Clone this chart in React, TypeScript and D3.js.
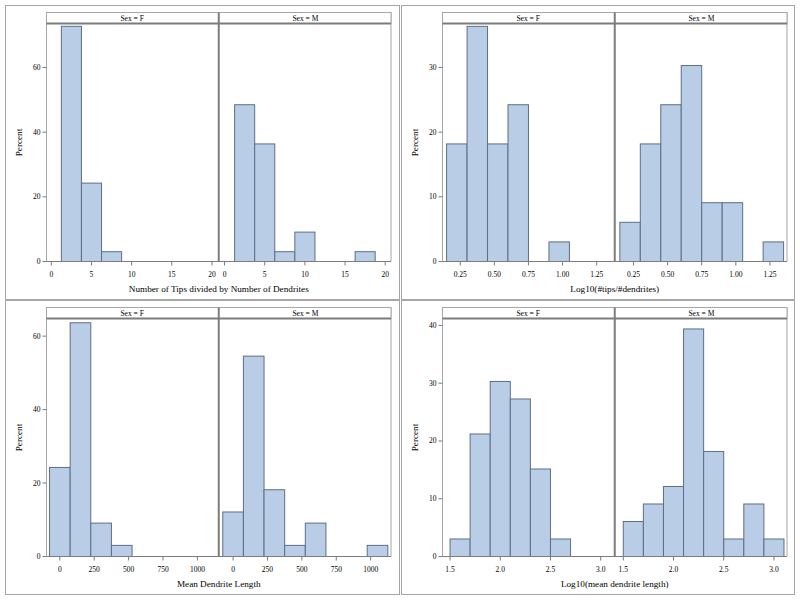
import React from "react";
import * as d3 from "d3";

const sexes = ["F", "M"];

// Chart 1: Number of tips / number of dendrites
const tipsBins = [2.5, 5, 7.5, 10, 12.5, 15, 17.5];
const tipsF = [72.73, 24.24, 3.03, 0, 0, 0, 0];
const tipsM = [48.48, 36.36, 3.03, 9.09, 0, 0, 3.03];
const tipsXTicks = [0, 5, 10, 15, 20];
const tipsYTicks = [0, 20, 40, 60];

// Chart 2: Log10(#tips/#dendrites)
const logTipsBins = [0.225, 0.375, 0.525, 0.675, 0.825, 0.975, 1.125, 1.275];
const logTipsF = [18.18, 36.36, 18.18, 24.24, 0, 3.03, 0, 0];
const logTipsM = [6.06, 18.18, 24.24, 30.3, 9.09, 9.09, 0, 3.03];
const logTipsXTicks = [0.25, 0.5, 0.75, 1.0, 1.25];
const logTipsYTicks = [0, 10, 20, 30];

// Chart 3: Mean dendrite length
const lenBins = [0, 150, 300, 450, 600, 750, 900, 1050];
const lenF = [24.24, 63.64, 9.09, 3.03, 0, 0, 0, 0];
const lenM = [12.12, 54.55, 18.18, 3.03, 9.09, 0, 0, 3.03];
const lenXTicks = [0, 250, 500, 750, 1000];
const lenYTicks = [0, 20, 40, 60];

// Chart 4: Log10(mean dendrite length)
const logLenBins = [1.6, 1.8, 2.0, 2.2, 2.4, 2.6, 2.8, 3.0];
const logLenF = [3.03, 21.21, 30.3, 27.27, 15.15, 3.03, 0, 0];
const logLenM = [6.06, 9.09, 12.12, 39.39, 18.18, 3.03, 9.09, 3.03];
const logLenXTicks = [1.5, 2.0, 2.5, 3.0];
const logLenYTicks = [0, 10, 20, 30, 40];

const xLabels = [
  "Number of Tips divided by Number of Dendrites",
  "Log10(#tips/#dendrites)",
  "Mean Dendrite Length",
  "Log10(mean dendrite length)",
];

type ChartDef = {
  bins: number[];
  binWidth: number;
  values: number[][];
  xDomain: [number, number];
  yMax: number;
  xTicks: number[];
  xFmt: (v: number) => string;
  yTicks: number[];
  label: string;
  col: number;
  row: number;
};

const charts: ChartDef[] = [
  { bins: tipsBins, binWidth: 2.5, values: [tipsF, tipsM], xDomain: [-0.6, 20.72], yMax: 73.6,
    xTicks: tipsXTicks, xFmt: d3.format("d"), yTicks: tipsYTicks, label: xLabels[0], col: 0, row: 0 },
  { bins: logTipsBins, binWidth: 0.15, values: [logTipsF, logTipsM], xDomain: [0.12, 1.375], yMax: 36.8,
    xTicks: logTipsXTicks, xFmt: d3.format(".2f"), yTicks: logTipsYTicks, label: xLabels[1], col: 1, row: 0 },
  { bins: lenBins, binWidth: 150, values: [lenF, lenM], xDomain: [-97, 1148], yMax: 64.8,
    xTicks: lenXTicks, xFmt: d3.format("d"), yTicks: lenYTicks, label: xLabels[2], col: 0, row: 1 },
  { bins: logLenBins, binWidth: 0.2, values: [logLenF, logLenM], xDomain: [1.425, 3.13], yMax: 41.2,
    xTicks: logLenXTicks, xFmt: d3.format(".1f"), yTicks: logLenYTicks, label: xLabels[3], col: 1, row: 1 },
];

const FONT = "'Liberation Serif', 'Times New Roman', serif";
const BAR_FILL = "#B9CDE6";
const BAR_STROKE = "#5E6E86";
const FRAME = "#a6a6a6";
const DARK = "#7c7c7c";
const TEXT = "#000000";

function Chart({ c }: { c: ChartDef }) {
  const ox = c.col * 396;
  const oy = c.row * 295;
  const left = 46.5 + ox;
  const right = 391 + ox;
  const headTop = 12.5 + oy;
  const headBot = 23.5 + oy;
  const base = 261.5 + oy;
  const mid = (left + right) / 2;
  const y = d3.scaleLinear().domain([0, c.yMax]).range([base, headBot]);
  const ranges: [number, number][] = [
    [left, mid - 1],
    [mid + 1, right],
  ];
  const cellX0 = 5.5 + ox;
  const cellX1 = (c.col === 0 ? 399.5 : 398.5) + ox;
  const cellY0 = c.row === 0 ? 5.5 : 300.5;
  const cellY1 = c.row === 0 ? 299.5 : 594.5;

  return (
    <g>
      <rect x={cellX0} y={cellY0} width={cellX1 - cellX0} height={cellY1 - cellY0}
        fill="white" stroke={FRAME} strokeWidth={1} />
      {sexes.map((s, i) => {
        const x = d3.scaleLinear().domain(c.xDomain).range(ranges[i]);
        return (
          <g key={s}>
            {c.bins.map((b, j) => {
              const v = c.values[i][j];
              if (!v) return null;
              const x0 = x(b - c.binWidth / 2);
              const x1 = x(b + c.binWidth / 2);
              return (
                <rect key={j} x={x0} y={y(v)} width={x1 - x0} height={base - y(v)}
                  fill={BAR_FILL} stroke={BAR_STROKE} strokeWidth={1} />
              );
            })}
            {c.xTicks.map((t) => (
              <g key={t}>
                <line x1={x(t)} x2={x(t)} y1={base} y2={base + 4} stroke={DARK} strokeWidth={1} />
                <text x={x(t)} y={base + 13} fontSize={7.5} fontFamily={FONT} fill={TEXT}
                  textAnchor="middle" dominantBaseline="central">{c.xFmt(t)}</text>
              </g>
            ))}
          </g>
        );
      })}
      <line x1={left} x2={left} y1={headBot} y2={base} stroke={FRAME} strokeWidth={1} />
      <line x1={right} x2={right} y1={headTop} y2={base} stroke={FRAME} strokeWidth={1} />
      <line x1={left} x2={right} y1={base} y2={base} stroke={DARK} strokeWidth={1} />
      <rect x={left} y={headTop} width={right - left} height={headBot - headTop}
        fill="white" stroke={FRAME} strokeWidth={1} />
      <line x1={left} x2={right} y1={headBot} y2={headBot} stroke={DARK} strokeWidth={2} />
      <line x1={mid} x2={mid} y1={headTop} y2={base} stroke={DARK} strokeWidth={2} />
      {sexes.map((s, i) => (
        <text key={s} x={(ranges[i][0] + ranges[i][1]) / 2} y={(headTop + headBot) / 2 + 0.5}
          fontSize={7.5} fontFamily={FONT} fill={TEXT} textAnchor="middle" dominantBaseline="central">
          {`Sex = ${s}`}
        </text>
      ))}
      {c.yTicks.map((t) => (
        <g key={t}>
          <line x1={left - 4} x2={left} y1={y(t)} y2={y(t)} stroke={DARK} strokeWidth={1} />
          <text x={left - 6} y={y(t)} fontSize={7.5} fontFamily={FONT} fill={TEXT}
            textAnchor="end" dominantBaseline="central">{t}</text>
        </g>
      ))}
      <text transform={`translate(${ox + 18.5},${(headBot + base) / 2}) rotate(-90)`}
        fontSize={9.2} fontFamily={FONT} fill={TEXT} textAnchor="middle" dominantBaseline="central">
        Percent
      </text>
      <text x={mid} y={base + 27} fontSize={9.2} fontFamily={FONT} fill={TEXT}
        textAnchor="middle" dominantBaseline="central">{c.label}</text>
    </g>
  );
}

export default function App() {
  return (
    <svg width={800} height={601} style={{ position: "absolute", left: 0, top: 0, background: "white" }}>
      <rect x={0} y={0} width={800} height={601} fill="white" />
      {charts.map((c, i) => (
        <Chart key={i} c={c} />
      ))}
    </svg>
  );
}
